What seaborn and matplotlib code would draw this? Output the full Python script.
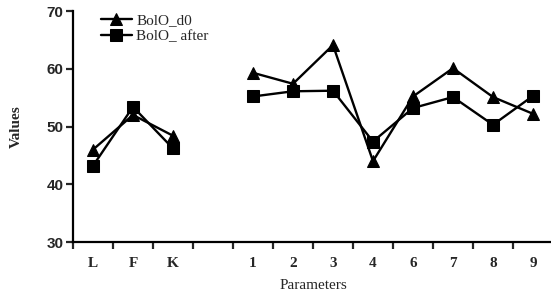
import pandas as pd
import matplotlib.pyplot as plt
import seaborn as sns

sns.set_style("white")

# categories on the x axis (slot 3 is left empty, as in the original)
categories = ['L', 'F', 'K', '1', '2', '3', '4', '6', '7', '8', '9']
positions = [0, 1, 2, 4, 5, 6, 7, 8, 9, 10, 11]
segments = ['a', 'a', 'a', 'b', 'b', 'b', 'b', 'b', 'b', 'b', 'b']

d0_values = [46, 52, 48.4, 59.3, 57.4, 64.1, 44, 55.2, 60.1, 55.1, 52.2]
after_values = [43.2, 53.4, 46.2, 55.2, 56.1, 56.2, 47.4, 53.2, 55.1, 50.3, 55.3]

df = pd.concat([
    pd.DataFrame({'pos': positions, 'value': d0_values, 'seg': segments, 'series': 'BolO_d0'}),
    pd.DataFrame({'pos': positions, 'value': after_values, 'seg': segments, 'series': 'BolO_ after'}),
])
df['units'] = df['series'] + df['seg']

fig = plt.figure(figsize=(5.51, 2.96), dpi=100)
ax = fig.add_axes([0.1325, 0.1824, 0.8711, 0.7804])

sns.lineplot(data=df, x='pos', y='value', style='series', units='units',
             estimator=None, markers={'BolO_d0': '^', 'BolO_ after': 's'},
             dashes=False, color='black', linewidth=1.7, markersize=9,
             markeredgecolor='black', ax=ax)

ax.set_xlim(-0.5, 11.5)
ax.set_ylim(30, 70)
ax.set_yticks([30, 40, 50, 60, 70])
ax.set_xticks(positions)
ax.set_xticklabels(categories, family='Liberation Serif', fontweight='bold', fontsize=11)
ax.set_xticks([k - 0.5 for k in range(13)], minor=True)
ax.tick_params(axis='x', which='major', length=0, pad=11)
ax.tick_params(axis='x', which='minor', length=5, width=1.6, direction='out', bottom=True)
ax.tick_params(axis='y', length=5, width=1.6, direction='out', left=True, pad=2)
for lab in ax.get_yticklabels():
    lab.set_family('Liberation Sans')
    lab.set_fontweight('bold')
    lab.set_fontsize(11)

for side in ['top', 'right']:
    ax.spines[side].set_visible(False)
for side in ['left', 'bottom']:
    ax.spines[side].set_linewidth(1.6)
    ax.spines[side].set_color('black')

ax.set_xlabel('Parameters', family='Liberation Serif', fontsize=11, labelpad=6)
ax.set_ylabel('Values', family='Liberation Serif', fontweight='bold', fontsize=11, labelpad=17)

leg = ax.legend(loc='upper left', bbox_to_anchor=(0.03, 1.05), frameon=False,
                prop={'family': 'Liberation Serif', 'size': 11},
                handlelength=2.0, handletextpad=0.3, labelspacing=0.15)

fig.savefig('out.png', dpi=100)
